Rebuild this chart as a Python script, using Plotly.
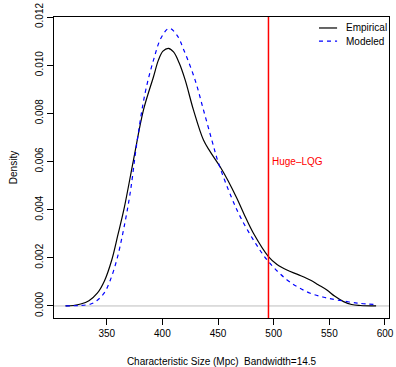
import plotly.graph_objects as go

# Empirical density (black solid)
emp_x = [313, 320, 326.6, 334, 341.5, 348, 354.5, 360, 365.6, 374, 383, 392, 396.4, 400.5, 405.4,
         410, 415, 420.5, 427.9, 436.9, 442.9, 451.9, 459, 466.9, 474, 481.8, 495.3, 503, 511.9, 522,
         532.8, 540, 547.8, 555, 562.8, 570, 577.8, 592]
emp_y = [0.0, 0.00002, 0.00008, 0.00022, 0.00053, 0.00105, 0.00191, 0.00295, 0.00405, 0.00606, 0.00814, 0.00952, 0.01021, 0.01058, 0.0107,
         0.01055, 0.0101, 0.00938, 0.00814, 0.00689, 0.00641, 0.00578, 0.0052, 0.00447, 0.00375, 0.00302, 0.00205, 0.00172, 0.00149, 0.0013,
         0.00108, 0.00088, 0.00066, 0.0004, 0.00018, 0.00006, 0.00002, 0.0]

# Modeled density (blue dashed)
mod_x = [313, 325, 335.6, 341, 347.6, 353, 359, 365, 371, 377, 384.4, 392, 399, 406,
         413, 419.5, 429.4, 436.9, 444.4, 450.4, 462.4, 470, 481.8, 495.3, 512, 522, 532.8, 545, 556.8, 575, 592]
mod_y = [0.0, 0.00002, 0.00008, 0.00022, 0.00053, 0.00105, 0.00191, 0.00315, 0.00468, 0.00675, 0.00883, 0.01021, 0.01115, 0.01153,
         0.01125, 0.0106, 0.00938, 0.00814, 0.00689, 0.00593, 0.00447, 0.0037, 0.00274, 0.00184, 0.00108, 0.00078, 0.00053, 0.00036, 0.00025, 0.00012, 0.00006]

LQG_SIZE = 495.3
LQG_LABEL = "Huge–LQG"
LQG_LABEL_Y = 0.00602

series_names = ["Empirical", "Modeled"]
series_colors = ["black", "blue"]
series_dash = ["solid", "4px,4px"]

x_ticks = [350, 400, 450, 500, 550, 600]
y_ticks = [0.000, 0.002, 0.004, 0.006, 0.008, 0.010, 0.012]

FONT = "Liberation Sans, Arial, Helvetica, sans-serif"

fig = go.Figure()
for xs, ys, nm, col, dsh in zip([emp_x, mod_x], [emp_y, mod_y], series_names, series_colors, series_dash):
    fig.add_trace(go.Scatter(x=xs, y=ys, mode="lines", name=nm, showlegend=False,
                             line=dict(color=col, width=1.2, dash=dsh, shape="spline", smoothing=1.0)))

# zero reference line (gray) and the red vertical line
fig.add_shape(type="line", xref="paper", x0=0, x1=1, yref="y", y0=0, y1=0,
              line=dict(color="#BEBEBE", width=1), layer="below")
fig.add_shape(type="line", xref="x", x0=LQG_SIZE, x1=LQG_SIZE, yref="paper", y0=0, y1=1,
              line=dict(color="red", width=1.5))
fig.add_annotation(x=LQG_SIZE, y=LQG_LABEL_Y, text=LQG_LABEL, showarrow=False,
                   xanchor="left", xshift=2, font=dict(color="red", size=10, family=FONT))

# legend (R style, no box)
leg_y = [0.9635, 0.920]
for i, (nm, col, dsh) in enumerate(zip(series_names, series_colors, series_dash)):
    fig.add_shape(type="line", xref="paper", yref="paper", x0=0.791, x1=0.845, y0=leg_y[i], y1=leg_y[i],
                  line=dict(color=col, width=1.2, dash=dsh))
    fig.add_annotation(xref="paper", yref="paper", x=0.866, y=leg_y[i], text=nm, showarrow=False,
                       xanchor="left", yanchor="middle", font=dict(size=10, family=FONT, color="black"))

fig.update_layout(
    width=396, height=367,
    margin=dict(l=54, r=7, t=17, b=49),
    plot_bgcolor="white", paper_bgcolor="white",
    font=dict(family=FONT, size=10, color="black"),
    showlegend=False,
)
fig.update_xaxes(range=[302.6, 603.6], tickvals=x_ticks, ticks="outside", ticklen=6,
                 tickcolor="black", showline=True, linecolor="black", linewidth=1, mirror=True,
                 showgrid=False, zeroline=False, tickfont=dict(size=10), automargin=False,
                 title=dict(text="Characteristic Size (Mpc)  Bandwidth=14.5", font=dict(size=10), standoff=19))
fig.update_yaxes(range=[-0.0005, 0.0120], tickvals=y_ticks, tickformat=".3f", tickangle=-90,
                 ticks="outside", ticklen=6, tickcolor="black", showline=True, linecolor="black",
                 linewidth=1, mirror=True, showgrid=False, zeroline=False, tickfont=dict(size=10),
                 automargin=False,
                 title=dict(text="Density", font=dict(size=10), standoff=14))

fig.write_html("out.html", config={"displayModeBar": False},
               post_script="document.body.style.margin='0';document.body.style.overflow='hidden';")
